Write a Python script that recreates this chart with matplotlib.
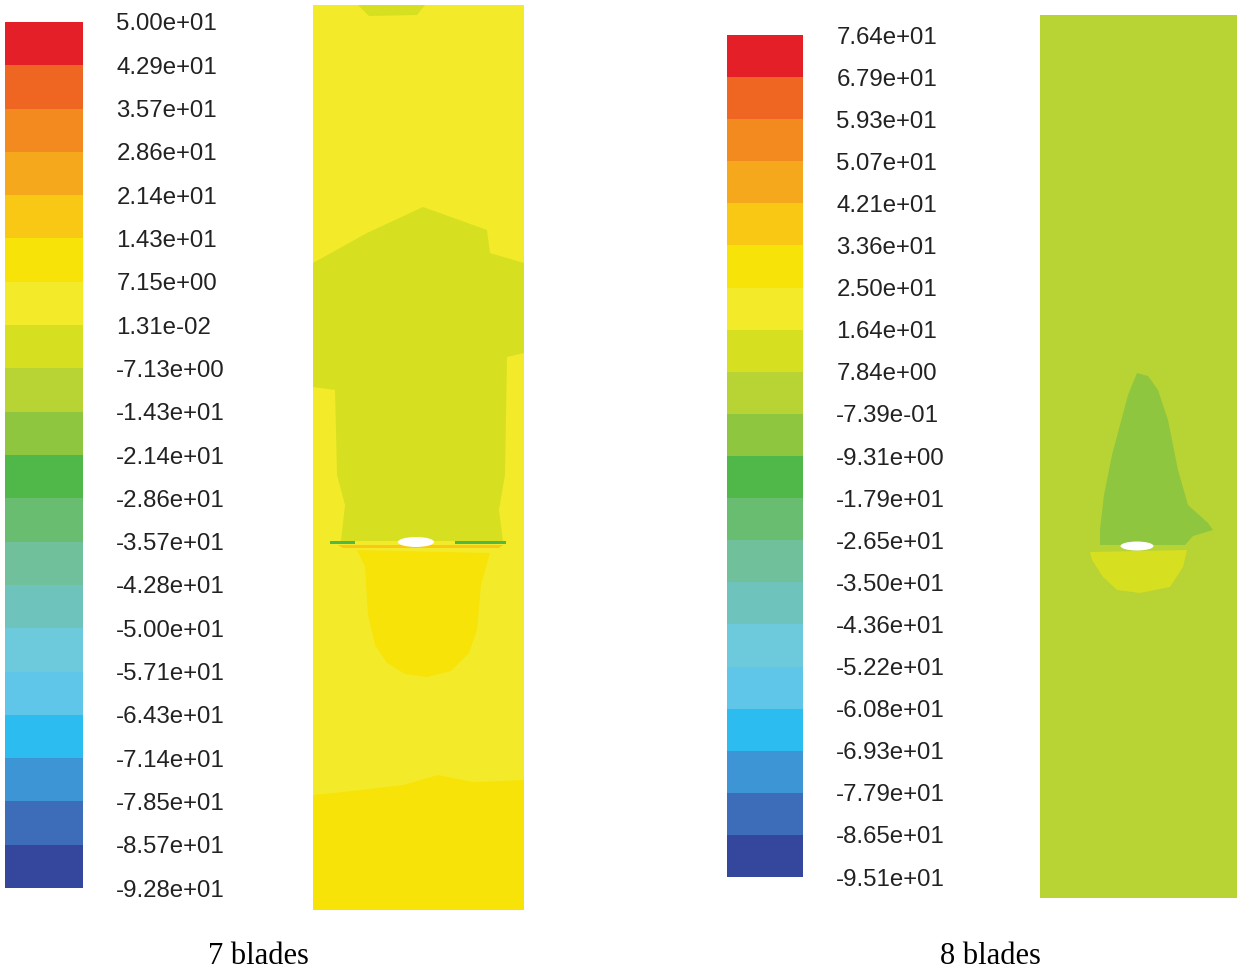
import matplotlib
matplotlib.use("Agg")
import matplotlib.pyplot as plt
from matplotlib.colors import ListedColormap, BoundaryNorm
from matplotlib.cm import ScalarMappable
from matplotlib.patches import Polygon, Rectangle, Ellipse

# colour bands, low to high (Fluent style rainbow)
band_colors = ['#35479c', '#3d6db8', '#3e95d6', '#2dbcf0', '#5fc6ea',
               '#6ccadc', '#6ec4bd', '#6fc09b', '#69bd70', '#4fb848',
               '#8fc63f', '#b7d334', '#d7df21', '#f3eb2a', '#f8e308',
               '#f8c815', '#f6a81c', '#f38a20', '#ef6522', '#e51f27']

# contour levels / tick labels, 7 blades
levels_7 = [-92.8, -85.7, -78.5, -71.4, -64.3, -57.1, -50.0, -42.8, -35.7, -28.6,
            -21.4, -14.3, -7.13, 0.0131, 7.15, 14.3, 21.4, 28.6, 35.7, 42.9, 50.0]
labels_7 = ['-9.28e+01', '-8.57e+01', '-7.85e+01', '-7.14e+01', '-6.43e+01',
            '-5.71e+01', '-5.00e+01', '-4.28e+01', '-3.57e+01', '-2.86e+01',
            '-2.14e+01', '-1.43e+01', '-7.13e+00', '1.31e-02', '7.15e+00',
            '1.43e+01', '2.14e+01', '2.86e+01', '3.57e+01', '4.29e+01', '5.00e+01']

# contour levels / tick labels, 8 blades
levels_8 = [-95.1, -86.5, -77.9, -69.3, -60.8, -52.2, -43.6, -35.0, -26.5, -17.9,
            -9.31, -0.739, 7.84, 16.4, 25.0, 33.6, 42.1, 50.7, 59.3, 67.9, 76.4]
labels_8 = ['-9.51e+01', '-8.65e+01', '-7.79e+01', '-6.93e+01', '-6.08e+01',
            '-5.22e+01', '-4.36e+01', '-3.50e+01', '-2.65e+01', '-1.79e+01',
            '-9.31e+00', '-7.39e-01', '7.84e+00', '1.64e+01', '2.50e+01',
            '3.36e+01', '4.21e+01', '5.07e+01', '5.93e+01', '6.79e+01', '7.64e+01']

# 7 blades field: region outlines (domain units, y downward) and values
W7, H7 = 211, 905
base_7 = 3.6
wake_7 = [(0, 258), (54, 228), (110, 202), (174, 225), (177, 248), (211, 258),
          (211, 348), (194, 352), (192, 470), (186, 505), (190, 536),
          (28, 536), (32, 500), (24, 470), (22, 385), (0, 382)]
wake_7_val = -3.5
smudge_7 = [(45, 0), (112, 0), (104, 10), (56, 11)]
cup_7 = [(44, 545), (52, 562), (55, 610), (62, 640), (74, 658), (92, 669),
         (114, 672), (138, 666), (156, 648), (164, 625), (168, 580), (177, 548)]
cup_7_val = 10.7
bottom_7 = [(0, 790), (40, 786), (90, 780), (125, 770), (160, 777), (211, 775),
            (211, 905), (0, 905)]
bottom_7_val = 10.7
tip_left_7 = [(17, 536), (42, 536), (42, 539), (17, 539)]
tip_right_7 = [(142, 536), (193, 536), (193, 539), (142, 539)]
tip_7_val = -25.0
streak_7 = [(25, 540), (190, 540), (186, 543), (30, 543)]
streak_7_val = 20.0
hub_7 = (103, 537, 36, 10)

# 8 blades field
W8, H8 = 197, 883
base_8 = 3.5
cone_8 = [(88, 380), (80, 410), (72, 440), (64, 480), (60, 515), (60, 530),
          (145, 530), (153, 521), (173, 515), (168, 508), (148, 490),
          (138, 455), (128, 405), (118, 375), (108, 361), (97, 358)]
cone_8_val = -5.0
cup_8 = [(50, 537), (52, 545), (63, 562), (77, 575), (100, 578), (130, 572),
         (143, 552), (147, 535)]
cup_8_val = 12.0
hub_8 = (97, 531, 33, 9)

cmap = ListedColormap(band_colors)
norm_7 = BoundaryNorm(levels_7, cmap.N)
norm_8 = BoundaryNorm(levels_8, cmap.N)

fig = plt.figure(figsize=(12.5, 9.71), dpi=100)
fig.patch.set_facecolor('white')

FW, FH = 1250, 971


def add_axes_px(x0, y0, x1, y1):
    return fig.add_axes([x0 / FW, 1 - y1 / FH, (x1 - x0) / FW, (y1 - y0) / FH])


def colorbar(cax, norm, levels, labels):
    cb = fig.colorbar(ScalarMappable(norm=norm, cmap=cmap), cax=cax)
    cb.set_ticks(levels, labels=labels)
    cb.outline.set_visible(False)
    cax.tick_params(length=0, pad=24, labelsize=17.3)
    for t in cax.get_yticklabels():
        t.set_fontfamily('Liberation Sans')
        t.set_color('#222222')


def domain(ax, w, h, norm, base, regions, hub):
    ax.set_xlim(0, w)
    ax.set_ylim(h, 0)
    ax.axis('off')
    ax.add_patch(Rectangle((0, 0), w, h, facecolor=cmap(norm(base)), edgecolor='none'))
    for pts, val in regions:
        ax.add_patch(Polygon(pts, closed=True, facecolor=cmap(norm(val)),
                             edgecolor='none'))
    cx, cy, ew, eh = hub
    ax.add_patch(Ellipse((cx, cy), ew, eh, facecolor='white', edgecolor='none'))


cax7 = add_axes_px(5, 22, 83, 888)
colorbar(cax7, norm_7, levels_7, labels_7)
cax8 = add_axes_px(727, 35, 803, 877)
colorbar(cax8, norm_8, levels_8, labels_8)

ax7 = add_axes_px(313, 5, 524, 910)
domain(ax7, W7, H7, norm_7, base_7,
       [(wake_7, wake_7_val), (smudge_7, wake_7_val), (cup_7, cup_7_val),
        (bottom_7, bottom_7_val), (streak_7, streak_7_val),
        (tip_left_7, tip_7_val), (tip_right_7, tip_7_val)], hub_7)

ax8 = add_axes_px(1040, 15, 1237, 898)
domain(ax8, W8, H8, norm_8, base_8,
       [(cone_8, cone_8_val), (cup_8, cup_8_val)], hub_8)

fig.text(258 / FW, 1 - 956 / FH, '7 blades', ha='center', va='center',
         fontsize=22, fontfamily='Liberation Serif')
fig.text(990 / FW, 1 - 956 / FH, '8 blades', ha='center', va='center',
         fontsize=22, fontfamily='Liberation Serif')

fig.savefig('out.png', dpi=100, facecolor='white')
